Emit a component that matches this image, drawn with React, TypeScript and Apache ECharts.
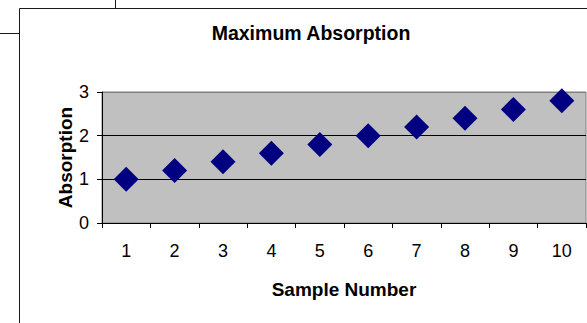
import React, { useEffect, useRef } from "react";
import * as echarts from "echarts";

// Sample numbers on the category axis and their measured maximum absorption.
const sampleNumbers = ["1", "2", "3", "4", "5", "6", "7", "8", "9", "10"];
const maxAbsorption = [1.0, 1.2, 1.4, 1.6, 1.8, 2.0, 2.2, 2.4, 2.6, 2.8];
const absorptionTicks = [0, 1, 2, 3];

const FONT = "'Liberation Sans', Arial, sans-serif";

export default function App() {
  const ref = useRef<HTMLDivElement>(null);

  useEffect(() => {
    if (!ref.current) return;
    const chart = echarts.init(ref.current, undefined, { renderer: "svg" });
    const frame = "#1a1a1a";
    chart.setOption({
      animation: false,
      backgroundColor: "#ffffff",
      title: {
        text: "Maximum Absorption",
        left: 311,
        top: 23,
        padding: 0,
        textAlign: "center",
        textStyle: { fontFamily: FONT, fontSize: 19.5, fontWeight: "bold", color: "#000" },
      },
      graphic: [
        // chart-area border and neighbouring cell rules
        { type: "line", shape: { x1: 19.5, y1: 8.5, x2: 587, y2: 8.5 }, style: { stroke: frame, lineWidth: 1 } },
        { type: "line", shape: { x1: 19.5, y1: 8.5, x2: 19.5, y2: 323 }, style: { stroke: frame, lineWidth: 1 } },
        { type: "line", shape: { x1: 115.5, y1: 0, x2: 115.5, y2: 8.5 }, style: { stroke: frame, lineWidth: 1 } },
        { type: "line", shape: { x1: 0, y1: 33.5, x2: 19.5, y2: 33.5 }, style: { stroke: frame, lineWidth: 1 } },
      ],
      grid: {
        left: 102,
        top: 92,
        right: 1,
        bottom: 100,
        show: true,
        backgroundColor: "#c0c0c0",
        borderColor: "#808080",
        borderWidth: 1,
      },
      xAxis: {
        type: "category",
        data: sampleNumbers,
        boundaryGap: true,
        name: "Sample Number",
        nameLocation: "middle",
        nameGap: 57,
        nameMoveOverlap: false,
        nameTextStyle: { fontFamily: FONT, fontSize: 19, fontWeight: "bold", color: "#000" },
        axisLine: { show: true, lineStyle: { color: "#000", width: 1 } },
        axisTick: { show: true, length: 5, alignWithLabel: false, lineStyle: { color: "#000" } },
        axisLabel: { fontFamily: FONT, fontSize: 18, color: "#000", margin: 19 },
        splitLine: { show: false },
      },
      yAxis: {
        type: "value",
        min: absorptionTicks[0],
        max: absorptionTicks[absorptionTicks.length - 1],
        interval: 1,
        name: "Absorption",
        nameLocation: "middle",
        nameRotate: 90,
        nameGap: 27,
        nameMoveOverlap: false,
        nameTextStyle: { fontFamily: FONT, fontSize: 19, fontWeight: "bold", color: "#000" },
        axisLine: { show: true, lineStyle: { color: "#000", width: 1 } },
        axisTick: { show: true, length: 5, lineStyle: { color: "#000" } },
        axisLabel: { fontFamily: FONT, fontSize: 18, color: "#000", margin: 13 },
        splitLine: { show: true, lineStyle: { color: ["#000", "#000", "#000", "#808080"], width: 1 } },
      },
      series: [
        {
          type: "scatter",
          data: maxAbsorption,
          symbol: "diamond",
          symbolSize: 25,
          itemStyle: { color: "#000080", opacity: 1 },
        },
      ],
    });
    return () => chart.dispose();
  }, []);

  return (
    <div
      ref={ref}
      style={{ position: "fixed", left: 0, top: 0, width: 587, height: 323 }}
    />
  );
}
